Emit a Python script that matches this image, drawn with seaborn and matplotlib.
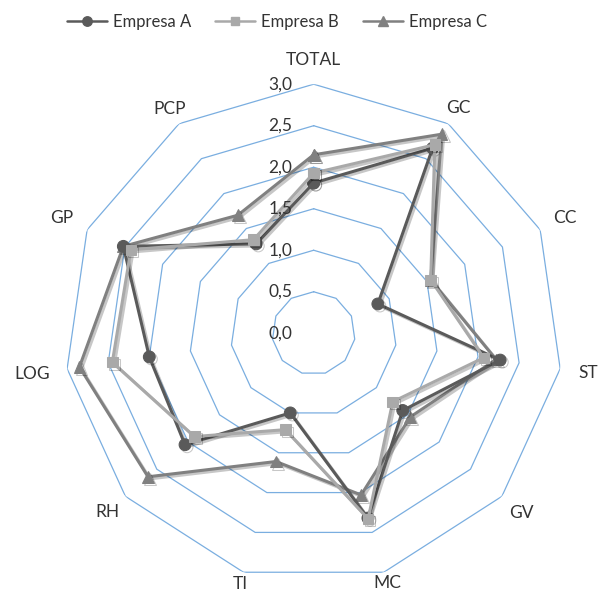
import numpy as np
import pandas as pd
import matplotlib
matplotlib.use("Agg")
import matplotlib.pyplot as plt
import matplotlib.patheffects as pe
import seaborn as sns

categories = ['TOTAL', 'GC', 'CC', 'ST', 'GV', 'MC', 'TI', 'RH', 'LOG', 'GP', 'PCP']
empresa_a = [1.81, 2.65, 0.85, 2.27, 1.42, 2.32, 1.00, 2.05, 2.00, 2.52, 1.28]
empresa_b = [1.93, 2.70, 1.55, 2.07, 1.26, 2.33, 1.21, 1.90, 2.45, 2.42, 1.34]
empresa_c = [2.15, 2.85, 1.55, 2.22, 1.54, 2.03, 1.61, 2.64, 2.85, 2.52, 1.69]
ring_values = [0.5, 1.0, 1.5, 2.0, 2.5, 3.0]
tick_values = [0.0, 0.5, 1.0, 1.5, 2.0, 2.5, 3.0]

# radial placement of the category labels (layout only)
label_radius = [3.29, 3.23, 3.33, 3.34, 3.31, 3.14, 3.15, 3.29, 3.42, 3.34, 3.21]

sns.set_style("white")
plt.rcParams['font.family'] = ['Lato', 'DejaVu Sans']

fig = plt.figure(figsize=(5.98, 5.93), dpi=100)
ax = fig.add_axes([0.108, 0.018, 0.833, 0.840], projection='polar')
ax.set_theta_zero_location('N')
ax.set_theta_direction(-1)

n = len(categories)
angles = np.linspace(0, 2 * np.pi, n, endpoint=False)
closed = np.append(angles, angles[0])

# polygon grid
for r in ring_values:
    ax.plot(closed, [r] * (n + 1), color='#7aaee0', lw=0.9, zorder=1)

series = [
    ('Empresa C', empresa_c, '#808080', '^', 8.5),
    ('Empresa A', empresa_a, '#5a5a5a', 'o', 8.5),
    ('Empresa B', empresa_b, '#a9a9a9', 's', 7.5),
]
handles = {}
shadow = [pe.SimpleLineShadow(offset=(1.5, -1.5), alpha=0.22, shadow_color='black'), pe.Normal()]
for name, vals, col, mk, ms in series:
    df = pd.DataFrame({'theta': closed, 'valor': vals + [vals[0]]})
    sns.lineplot(data=df, x='theta', y='valor', ax=ax, sort=False, estimator=None,
                 color=col, marker=mk, markersize=ms, markeredgecolor=col,
                 lw=2.2, label=name, zorder=3)
    line = ax.lines[-1]
    line.set_path_effects(shadow)
    handles[name] = line

if ax.get_legend() is not None:
    ax.get_legend().remove()

ax.set_ylim(0, 3.0)
ax.grid(False)
ax.set_xticks([])
ax.set_yticks([])
ax.spines['polar'].set_visible(False)
ax.set_xlabel('')
ax.set_ylabel('')

txt_color = '#333333'
for ang, lab, lr in zip(angles, categories, label_radius):
    ax.text(ang, lr, lab, ha='center', va='center', fontsize=12.5, color=txt_color)

for v in tick_values:
    ax.annotate(f'{v:.1f}'.replace('.', ','), xy=(0, v), xytext=(-33, 0),
                textcoords='offset pixels', ha='center', va='center',
                fontsize=12.5, color=txt_color)

order = ['Empresa A', 'Empresa B', 'Empresa C']
leg_handles = []
for k in order:
    h = handles[k]
    proxy = plt.Line2D([], [], color=h.get_color(), marker=h.get_marker(),
                       markersize=h.get_markersize() * 0.8, lw=1.8)
    leg_handles.append(proxy)
fig.legend(leg_handles, order, loc='center', bbox_to_anchor=(0.463, 0.963),
           ncol=3, frameon=False, fontsize=12, handlelength=2.4, columnspacing=1.4,
           handletextpad=0.4, labelcolor=txt_color)

fig.savefig('out.png', dpi=100)
